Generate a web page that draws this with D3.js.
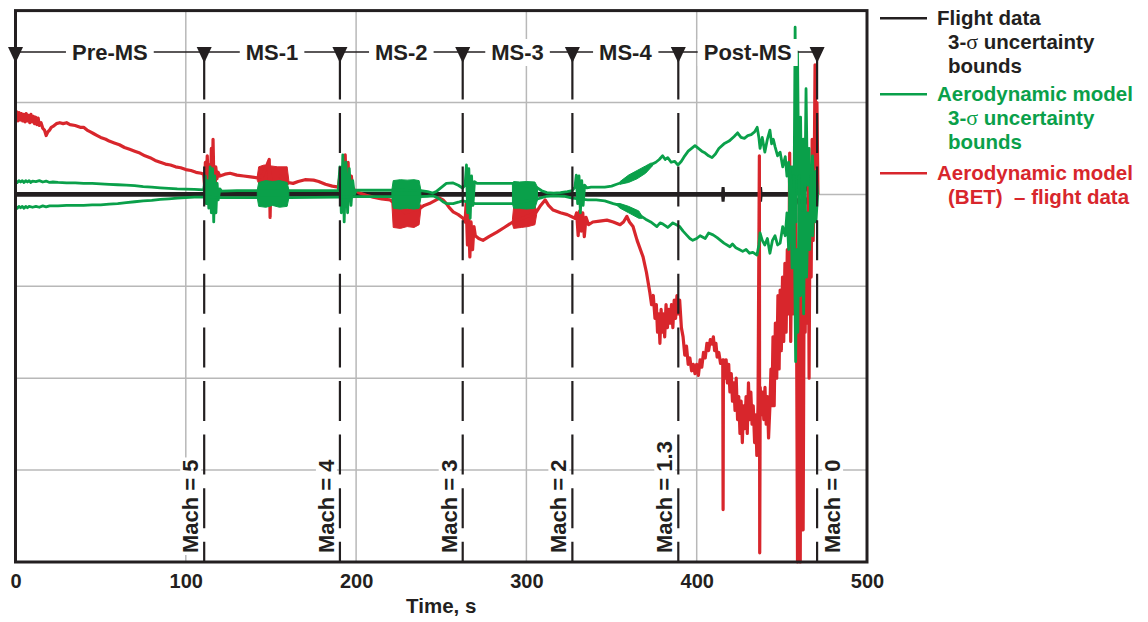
<!DOCTYPE html>
<html>
<head>
<meta charset="utf-8">
<script src="https://cdn.jsdelivr.net/npm/d3@7"></script>
<style>
body { margin: 0; background: #fff; }
svg { display: block; font-family: "Liberation Sans", Arial, Helvetica, sans-serif; font-weight: bold; }
</style>
</head>
<body>
<div id="vis"></div>
<script>
var width = 1148;
var height = 622;
var ink = "#231f20", green = "#0aa04a", red = "#d8262c", gridColor = "#b8b8b8";

// flight phases and the Mach number at each boundary
var phaseTimes = [0, 110.8, 190.5, 262.6, 327, 389.2, 470.7];
var phaseNames = ["Pre-MS", "MS-1", "MS-2", "MS-3", "MS-4", "Post-MS"];
var machLabels = ["Mach = 5", "Mach = 4", "Mach = 3", "Mach = 2", "Mach = 1.3", "Mach = 0"];
var xTicks = [0, 100, 200, 300, 400, 500];
var yGrid = [-3, -2, -1, 0, 1];

// flight data 3-sigma bounds
var flightUpper = [[0,0.01],[415.2,0.01],[415.5,0.08],[415.8,0.01],[437.2,0.01],[437.5,0.08],[437.8,0.01],[456,0.01],[459,0.06],[460,0.1],[462,0.05],[464,0.09],[466,0.01],[471,0.01]];
var flightLower = [[0,-0.01],[415.2,-0.01],[415.5,-0.08],[415.8,-0.01],[437.2,-0.01],[437.5,-0.08],[437.8,-0.01],[456,-0.01],[459,-0.06],[460,-0.1],[462,-0.05],[464,-0.09],[466,-0.01],[471,-0.01]];

// aerodynamic model 3-sigma bounds
var greenUpper = [[0,0.145],[1,0.13],[2,0.15],[3,0.135],[4,0.15],[5,0.13],[6,0.15],[7,0.135],[8,0.15],[9,0.13],[10,0.145],[12,0.14],[14,0.15],[16,0.135],[18,0.145],[20,0.13],[22,0.135],[25,0.13],[30,0.125],[35,0.125],[40,0.12],[45,0.12],[50,0.115],[55,0.11],[60,0.105],[65,0.1],[70,0.095],[75,0.085],[80,0.08],[85,0.072],[90,0.065],[95,0.06],[100,0.058],[105,0.055],[110.5,0.05],
  [111.5,0.2],[112,-0.1],[112.8,0.15],[113.5,-0.15],[114.3,0.3],[115,-0.2],[115.7,0.28],[116.4,-0.3],[117,0.2],[117.7,-0.2],[118.4,0.12],[119,-0.06],[120,0.06],[121,0.035],[130,0.04],[142,0.04],[161,0.04],[170,0.04],[180,0.04],[189.5,0.04],
  [190.5,0.3],[191.3,-0.2],[192.2,0.43],[193,-0.3],[194,0.35],[195,-0.2],[196,0.28],[197,-0.12],[198,0.15],[199,0.0],[200,0.045],[210,0.045],[221,0.045],[238,0.04],[242,0.03],[245,0.015],[247,0.03],[249,0.06],[251,0.09],[253,0.12],[257,0.125],[260,0.1],[262.5,0.07],
  [264,0.1],[264.8,0.32],[265.5,-0.2],[266.2,0.28],[267,-0.26],[267.8,0.2],[268.6,-0.12],[269.5,0.14],[271,0.12],[275,0.12],[283,0.12],[292,0.12],[306.5,0.07],[309,0.04],[312,0.02],[316,0.015],[320,0.02],[324,0.03],[327,0.04],
  [328.5,0.08],[329.3,0.21],[330.1,-0.1],[330.9,0.2],[331.7,-0.2],[332.5,0.15],[333.3,-0.12],[334.2,0.1],[335.5,0.07],[338,0.08],[342,0.08],[346,0.08],[350,0.09],[353,0.11],[356,0.13],[359,0.15],[362,0.18],[365,0.21],[368,0.25],[371,0.29],[374,0.33],[376,0.35],[378,0.38],[380,0.42],[381.5,0.38],[383,0.4],[385,0.35],[387,0.36],[389,0.32],[391,0.36],[393,0.42],[395,0.47],[397,0.5],[399,0.53],[401,0.5],[403,0.47],[405,0.45],[407,0.42],[409,0.4],[411,0.44],[413,0.5],[416,0.55],[419,0.58],[422,0.63],[424,0.67],[426,0.62],[428,0.61],[430,0.64],[432,0.65],[434,0.68],[435.5,0.73],[436.5,0.62],[437.2,0.5],[438.5,0.62],[440,0.46],[441.5,0.6],[443,0.7],[444,0.55],[445,0.6],[446,0.52],[447.5,0.42],[449,0.46],[450.5,0.3],[452,0.41],[453,0.2],[454,0.35],[455,-0.2],[456,0.3],[457,-0.5],[457.8,1.82],[458.4,-0.3],[459.2,1.55],[460,0.0],[461,0.84],[461.8,-0.4],[462.6,0.6],[463.4,-0.2],[464.2,1.15],[465,0.1],[466,0.5],[467,-0.3],[468,0.42],[469,-0.1],[470,0.25],[471,0.0]];

var greenLower = [[0,-0.135],[1,-0.15],[2,-0.13],[3,-0.145],[4,-0.13],[5,-0.15],[6,-0.13],[7,-0.145],[8,-0.13],[10,-0.14],[12,-0.13],[14,-0.14],[16,-0.125],[18,-0.135],[20,-0.125],[25,-0.125],[30,-0.12],[35,-0.12],[40,-0.12],[45,-0.115],[50,-0.115],[55,-0.105],[60,-0.1],[65,-0.09],[70,-0.08],[75,-0.07],[80,-0.065],[85,-0.055],[90,-0.048],[95,-0.04],[100,-0.035],[105,-0.03],[110.5,-0.03],[121,-0.035],[142,-0.035],[161,-0.035],[189.5,-0.03],[200,-0.025],[221,-0.025],[238,-0.025],[242,-0.02],[245,-0.015],[247,-0.03],[249,-0.05],[251,-0.08],[253,-0.1],[257,-0.1],[260,-0.085],[262.5,-0.07],[270,-0.1],[275,-0.1],[283,-0.1],[292,-0.1],[306.5,-0.05],[309,-0.035],[312,-0.02],[316,-0.015],[322,-0.02],[327,-0.04],[336,-0.06],[341,-0.06],[346,-0.07],[351,-0.1],[355,-0.12],[358,-0.14],[362.5,-0.17],[366,-0.22],[370,-0.27],[373,-0.3],[376.6,-0.35],[378.5,-0.31],[380,-0.32],[383,-0.36],[386,-0.31],[388,-0.33],[390,-0.35],[392,-0.4],[394,-0.44],[396,-0.48],[397.7,-0.5],[400,-0.48],[402,-0.45],[405,-0.48],[407,-0.42],[409.6,-0.44],[412,-0.47],[414,-0.5],[416,-0.53],[419.5,-0.57],[421,-0.54],[423,-0.58],[425,-0.6],[427,-0.62],[429,-0.6],[431,-0.64],[433,-0.63],[435.4,-0.66],[436.5,-0.55],[437.2,-0.42],[438.5,-0.5],[440,-0.55],[441.5,-0.48],[443,-0.64],[444.5,-0.5],[446,-0.45],[447.5,-0.55],[449,-0.53],[450.5,-0.35],[452,-0.45],[453,-0.2],[454,-0.6],[455,0.3],[456,-0.8],[457,0.2],[458.1,-1.82],[458.7,-0.6],[459.4,-1.5],[460.2,0.2],[461,-1.1],[462,-0.2],[462.8,-1.3],[463.6,0.1],[464.5,-0.9],[465.4,-0.2],[466.3,-0.6],[467.2,0.2],[468.1,-0.45],[469,0.0],[470,-0.3],[471,0.0]];

// dense noisy stretches of the model bounds: [t, low, high]
var greenBursts = [
  [[142,-0.04,0.05],[142.8,-0.13,0.13],[147,-0.14,0.15],[151,-0.12,0.14],[155,-0.14,0.15],[159.5,-0.13,0.13],[160.5,-0.04,0.05]],
  [[221,-0.04,0.05],[221.8,-0.15,0.15],[226,-0.16,0.16],[230,-0.15,0.155],[234,-0.16,0.16],[237,-0.15,0.15],[238,-0.04,0.05]],
  [[291.8,-0.1,0.12],[292.5,-0.15,0.14],[296,-0.15,0.135],[300,-0.16,0.14],[305,-0.15,0.135],[306.5,-0.06,0.08]],
  [[355,0.11,0.14],[360,0.13,0.21],[365,0.17,0.26],[370,0.23,0.31],[373,0.29,0.34],[374,0.31,0.34]],
  [[352,-0.1,-0.1],[355,-0.15,-0.1],[360,-0.2,-0.13],[366,-0.26,-0.18],[368,-0.26,-0.24]]
];

// aerodynamic model (BET) minus flight data
var redData = [[0,0.84],[0.7,0.9],[1.4,0.8],[2.1,0.89],[2.8,0.81],[3.5,0.88],[4.2,0.8],[4.9,0.87],[5.6,0.79],[6.3,0.88],[7,0.8],[7.7,0.86],[8.4,0.78],[9.1,0.87],[9.8,0.79],[10.5,0.85],[11.2,0.77],[11.9,0.84],[12.6,0.76],[13.3,0.83],[14,0.75],[15,0.78],[16,0.72],[17,0.7],[18,0.64],[19,0.68],[20,0.7],[21,0.73],[22,0.74],[24,0.77],[26,0.78],[28,0.77],[30,0.78],[32,0.76],[35,0.75],[38,0.73],[40,0.73],[42,0.7],[44,0.68],[46,0.66],[48,0.64],[50,0.62],[53,0.6],[55,0.58],[58,0.56],[61,0.54],[64,0.51],[67,0.49],[70,0.47],[73,0.45],[76,0.42],[79,0.4],[82,0.37],[85,0.35],[88,0.33],[91,0.32],[94,0.3],[97,0.29],[100,0.27],[103,0.26],[106,0.24],[109,0.23],[110.5,0.22],
  [111,0.1],[111.5,0.35],[112,0.12],[112.6,0.42],[113.2,0.08],[113.8,0.32],[114.4,0.04],[115,0.5],[115.5,0.0],[116,0.6],[116.5,0.12],[117,-0.2],[117.6,0.3],[118.3,0.17],[119,0.24],[120,0.2],[123,0.22],[126,0.23],[130,0.21],[134,0.2],[138,0.19],[142,0.18],[145,0.2],[149,0.38],[149.5,-0.25],[150,0.2],[155,0.2],[160,0.13],[163,0.12],[166,0.14],[170,0.16],[175,0.155],[178,0.14],[182,0.11],[186,0.09],[189.5,0.08],
  [190.5,0.2],[191,-0.05],[192,0.3],[192.8,0.0],[193.6,0.43],[194.4,-0.1],[195.3,0.35],[196.2,-0.05],[197.2,0.2],[198.2,0.02],[199,0.05],[202,0.015],[206,-0.01],[210,-0.03],[215,-0.05],[220,-0.06],[229,-0.2],[237.6,-0.15],[240,-0.12],[243,-0.1],[246,-0.07],[249,-0.04],[251,-0.06],[253,-0.1],[255,-0.15],[257,-0.19],[260,-0.22],[262.8,-0.26],
  [264,-0.3],[264.6,-0.1],[265.4,-0.55],[266,-0.2],[266.8,-0.68],[267.5,-0.3],[268.4,-0.6],[269.2,-0.35],[270,-0.45],[272,-0.48],[274.5,-0.5],[278,-0.46],[282.7,-0.41],[287,-0.36],[292,-0.3],[299,-0.25],[305.5,-0.2],[308,-0.13],[311,-0.06],[313,-0.12],[315.7,-0.17],[320,-0.2],[324,-0.22],[328.5,-0.26],
  [329.5,-0.2],[330.4,-0.45],[331.3,-0.18],[332.2,-0.4],[333.1,-0.2],[334,-0.46],[335,-0.25],[336.5,-0.33],[339,-0.3],[343,-0.29],[347.3,-0.28],[351,-0.3],[355,-0.33],[357,-0.3],[359,-0.24],[360.5,-0.3],[362.6,-0.35],[365,-0.5],[368.5,-0.68],[370.5,-0.85],[372.5,-1.07],
  [373.5,-1.2],[374.5,-1.1],[375.5,-1.35],[376.3,-1.2],[377,-1.5],[377.7,-1.3],[378.4,-1.62],[379.1,-1.25],[379.8,-1.5],[380.5,-1.3],[381.2,-1.55],[382,-1.2],[382.8,-1.45],[383.6,-1.25],[384.4,-1.4],[385.2,-1.2],[386,-1.45],[386.8,-1.15],[387.6,-1.35],[388.4,-1.1],[389.2,-1.3],[390,-1.15],[391,-1.45],
  [392,-1.55],[393,-1.75],[394,-1.65],[395,-1.85],[396,-1.78],[397,-1.92],[398,-1.85],[399,-1.95],[400,-1.85],[401,-1.97],[402,-1.8],[403,-1.88],[404,-1.72],[405,-1.78],[406,-1.62],[407,-1.7],[408,-1.58],[409,-1.63],[409.8,-1.55],[410.5,-1.7],[411.3,-1.62],[412,-1.77],[413,-1.72],[414,-1.84],[415.3,-1.8],[415.5,-3.43],
  [415.7,-1.8],[416.5,-2.0],[417.3,-1.8],[418,-2.05],[418.8,-1.85],[419.5,-2.15],[420.3,-1.95],[421,-2.25],[421.8,-2.05],[422.5,-2.35],[423.2,-2.0],[424,-2.45],[424.7,-2.2],[425.4,-2.6],[426.1,-2.25],[426.8,-2.7],[427.5,-2.3],[428.2,-2.55],[429,-2.2],[429.7,-2.6],[430.4,-2.05],[431.1,-2.45],[431.8,-2.15],[432.5,-2.5],[433.2,-2.3],[434,-2.7],[434.7,-2.4],[435.3,-2.84],[436,-2.3],[436.8,0.42],[437,-3.9],[437.3,-2.1],[438,-2.4],[438.7,-2.15],[439.4,-2.45],[440.1,-2.1],[440.8,-2.5],[441.5,-2.2],[442.2,-2.65],[443,-2.3],[443.6,-1.9],[444.2,-2.3],
  [444.8,-1.55],[445.5,-2.3],[446.2,-1.4],[447,-2.0],[447.7,-1.1],[448.4,-1.9],[449,-1.04],[449.7,-1.7],[450.4,-0.9],[451.1,-1.6],[451.8,-0.75],[452.5,-1.5],[453.2,-0.6],[454,-1.3],[454.6,0.45],[455.2,-1.6],[455.9,-0.42],[456.6,-1.3],[457.3,-0.3],[458,0.3],[458.6,-1.2],[459.2,-4.0],[459.7,-0.6],[460.3,-1.6],[460.8,-4.0],[461.4,-0.5],[462,-1.8],[462.5,-3.65],[463.1,-0.8],[463.7,-1.5],[464.3,-0.2],[465,-1.4],[465.5,0.3],[466,-2.0],[466.6,0.2],[467.2,-0.9],[467.8,0.6],[468.4,-0.5],[469,0.2],[469.5,1.41],[470.1,0.3],[470.6,1.0],[471.2,0.0]];

var redBursts = [
  [[142,0.15,0.2],[142.8,0.12,0.3],[146,0.13,0.32],[150,0.12,0.31],[154,0.12,0.3],[159.5,0.11,0.3],[160.5,0.11,0.15]],
  [[221,-0.1,-0.05],[221.8,-0.36,-0.14],[226,-0.37,-0.15],[230,-0.35,-0.15],[234,-0.36,-0.15],[237,-0.33,-0.15],[238,-0.16,-0.11]],
  [[291.8,-0.32,-0.27],[292.5,-0.37,-0.14],[297,-0.36,-0.13],[301,-0.35,-0.13],[305,-0.33,-0.13],[306,-0.22,-0.17]]
];

var legendItems = [
  {color: ink, lines: ["Flight data", "3-σ uncertainty", "bounds"]},
  {color: green, lines: ["Aerodynamic model", "3-σ uncertainty", "bounds"]},
  {color: red, lines: ["Aerodynamic model", "(BET)  \u2013 flight data"]}
];

var x = d3.scaleLinear().domain([0, 500]).range([15.5, 867]);
var y = d3.scaleLinear().domain([-4, 2]).range([562, 10.6]);

var svg = d3.select("#vis").append("svg")
  .attr("width", width)
  .attr("height", height)
  .attr("viewBox", [0, 0, width, height]);

// grid
svg.append("g")
  .attr("stroke", gridColor)
  .attr("stroke-width", 1.5)
  .selectAll("line")
  .data(xTicks.slice(1, -1))
  .enter().append("line")
  .attr("x1", d => x(d)).attr("x2", d => x(d))
  .attr("y1", y(2)).attr("y2", y(-4));

svg.append("g")
  .attr("stroke", gridColor)
  .attr("stroke-width", 1.5)
  .selectAll("line")
  .data(yGrid)
  .enter().append("line")
  .attr("x1", x(0)).attr("x2", x(500))
  .attr("y1", d => y(d)).attr("y2", d => y(d));

var line = d3.line().x(d => x(d[0])).y(d => y(d[1]));
var area = d3.area().x(d => x(d[0])).y0(d => y(d[1])).y1(d => y(d[2]));

// flight data bounds
[flightUpper, flightLower].forEach(function(s){
  svg.append("path").datum(s)
    .attr("fill", "none").attr("stroke", ink).attr("stroke-width", 3)
    .attr("d", line);
});

// model - flight data
svg.append("g").selectAll("path").data(redBursts).enter().append("path")
  .attr("fill", red).attr("stroke", red).attr("stroke-width", 1)
  .attr("d", area);
svg.append("path").datum(redData)
  .attr("fill", "none").attr("stroke", red).attr("stroke-width", 3.2)
  .attr("stroke-linejoin", "round")
  .attr("d", line);

// model bounds
svg.append("g").selectAll("path").data(greenBursts).enter().append("path")
  .attr("fill", green).attr("stroke", green).attr("stroke-width", 1)
  .attr("d", area);
[greenUpper, greenLower].forEach(function(s){
  svg.append("path").datum(s)
    .attr("fill", "none").attr("stroke", green).attr("stroke-width", 2.8)
    .attr("stroke-linejoin", "round")
    .attr("d", line);
});

// phase boundaries
svg.append("g")
  .attr("stroke", ink)
  .attr("stroke-width", 2.2)
  .attr("stroke-dasharray", "40,13.6")
  .selectAll("line")
  .data(phaseTimes.slice(1))
  .enter().append("line")
  .attr("x1", d => x(d)).attr("x2", d => x(d))
  .attr("y1", 59.4).attr("y2", y(-4));

var rowY = 52;
svg.append("line")
  .attr("x1", x(phaseTimes[0])).attr("x2", x(phaseTimes[phaseTimes.length - 1]))
  .attr("y1", rowY).attr("y2", rowY)
  .attr("stroke", ink).attr("stroke-width", 1.3);

var phaseG = svg.append("g").selectAll("g")
  .data(phaseNames)
  .enter().append("g")
  .attr("transform", (d, i) => `translate(${x((phaseTimes[i] + phaseTimes[i + 1]) / 2)},${rowY})`);
phaseG.append("text")
  .attr("text-anchor", "middle")
  .attr("y", 8)
  .attr("fill", ink)
  .style("font-size", "22px")
  .text(d => d);
phaseG.each(function(){
  var g = d3.select(this);
  var b = g.select("text").node().getBBox();
  g.insert("rect", "text")
    .attr("x", b.x - 6).attr("y", b.y - 1)
    .attr("width", b.width + 12).attr("height", b.height + 2)
    .attr("fill", "#fff");
});

svg.append("g").selectAll("path")
  .data(phaseTimes)
  .enter().append("path")
  .attr("d", d => `M${x(d) - 7.5},47L${x(d) + 7.5},47L${x(d)},63Z`)
  .attr("fill", ink);

// Mach labels
var machG = svg.append("g").selectAll("g")
  .data(machLabels)
  .enter().append("g")
  .attr("transform", function(d, i){
    var last = i === machLabels.length - 1;
    var px = x(phaseTimes[i + 1]) + (last ? 23 : -6);
    return `translate(${px},553) rotate(-90)`;
  });
machG.append("text")
  .attr("fill", ink)
  .style("font-size", "22px")
  .text(d => d);
machG.each(function(){
  var g = d3.select(this);
  var b = g.select("text").node().getBBox();
  g.insert("rect", "text")
    .attr("x", b.x - 2).attr("y", b.y + 2)
    .attr("width", b.width + 4).attr("height", b.height - 4)
    .attr("fill", "#fff");
});

// frame
svg.append("rect")
  .attr("x", x(0)).attr("y", y(2))
  .attr("width", x(500) - x(0)).attr("height", y(-4) - y(2))
  .attr("fill", "none").attr("stroke", ink).attr("stroke-width", 3);

// x axis
svg.append("g")
  .attr("transform", `translate(0,${y(-4)})`)
  .call(d3.axisBottom(x).tickValues(xTicks).tickSize(0).tickPadding(12).tickFormat(d3.format("d")))
  .call(g => g.select(".domain").remove())
  .selectAll("text")
  .attr("fill", ink)
  .style("font", "bold 20px 'Liberation Sans', Arial, sans-serif");

svg.append("text")
  .attr("x", x(250)).attr("y", 613)
  .attr("text-anchor", "middle")
  .attr("fill", ink)
  .style("font-size", "20.5px")
  .text("Time, s");

// legend
var legendTop = [18.3, 94.3, 173.3];
var legend = svg.append("g").selectAll("g")
  .data(legendItems)
  .enter().append("g")
  .attr("transform", (d, i) => `translate(880,${legendTop[i]})`);
legend.append("line")
  .attr("x1", 0).attr("x2", 47)
  .attr("stroke", d => d.color).attr("stroke-width", 2.5);
legend.each(function(d){
  var t = d3.select(this).append("text")
    .attr("fill", d.color)
    .style("font-size", "20.5px")
    .style("white-space", "pre");
  d.lines.forEach(function(s, j){
    var ts = t.append("tspan")
      .attr("x", j === 0 ? 57 : 68)
      .attr("y", 7 + j * 24);
    var parts = s.split("σ");
    if (parts.length > 1) {
      ts.append("tspan").text(parts[0]);
      ts.append("tspan").style("font-family", "'Liberation Serif', 'Times New Roman', serif")
        .style("font-weight", "normal").style("font-size", "22px").text("σ");
      ts.append("tspan").text(parts[1]);
    } else {
      ts.text(s);
    }
  });
});
</script>
</body>
</html>
